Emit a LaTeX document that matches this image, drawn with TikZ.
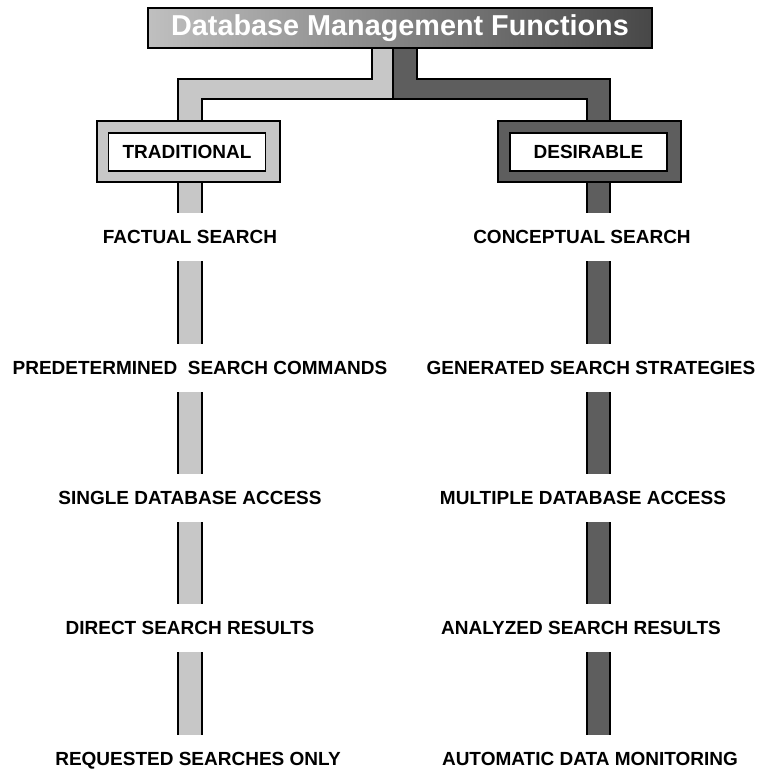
\documentclass[tikz,border=0pt]{standalone}
\usepackage{fontspec}
\setmainfont{Liberation Sans}
\usetikzlibrary{positioning}
\definecolor{lightbar}{gray}{0.78}
\definecolor{darkbar}{gray}{0.37}
\tikzset{
    edge/.style={line width=1.3pt},
    item/.style={font=\fontsize{19}{21}\selectfont\bfseries, text height=13.6pt, text depth=0pt, minimum height=48pt, inner sep=0pt},
    frame/.style={draw, edge, minimum width=183pt, minimum height=61pt, inner sep=0pt},
    plate/.style={draw, edge, fill=white, minimum width=157pt, minimum height=38pt, inner sep=0pt, font=\fontsize{19}{21}\selectfont\bfseries}
}

\begin{document}
\begin{tikzpicture}[x=1pt, y=-1pt]
    \useasboundingbox[fill=white] (0,0) rectangle (758,769);

    \node[draw, edge, left color=black!25, right color=black!72, minimum width=504pt, minimum height=40pt, inner sep=0pt,
          text=white, font=\fontsize{28.8}{30}\selectfont\bfseries] (title) at (400,28) {Database Management Functions};

    \node[frame, fill=lightbar] (trad) at (188.5,151.5) {};
    \node[plate] (tradtxt) at (187,152) {TRADITIONAL};
    \node[frame, fill=darkbar] (des) at (589.5,151.5) {};
    \node[plate] (destxt) at (588.5,152) {DESIRABLE};

    \node[item] (fac) at (190,237) {FACTUAL SEARCH};
    \node[item] (pre) at (200,368) {PREDETERMINED\ \ SEARCH COMMANDS};
    \node[item] (sin) at (190,498) {SINGLE DATABASE ACCESS};
    \node[item] (dir) at (190,628) {DIRECT SEARCH RESULTS};
    \node[item] (req) at (198,759) {REQUESTED SEARCHES ONLY};

    \node[item] (con) at (582,237) {CONCEPTUAL SEARCH};
    \node[item] (gen) at (591,368) {GENERATED SEARCH STRATEGIES};
    \node[item] (mul) at (583,498) {MULTIPLE DATABASE ACCESS};
    \node[item] (ana) at (581,628) {ANALYZED SEARCH RESULTS};
    \node[item] (aut) at (590,759) {AUTOMATIC DATA MONITORING};

    \draw[edge, fill=lightbar] (title.south -| 372,0) -- (372,79) -- (178,79) -- (trad.north -| 178,0)
        -- (trad.north -| 202,0) -- (202,99) -- (393,99) -- (title.south -| 393,0) -- cycle;
    \draw[edge, fill=darkbar] (title.south -| 393,0) -- (393,99) -- (587,99) -- (des.north -| 587,0)
        -- (des.north -| 610,0) -- (610,79) -- (417,79) -- (title.south -| 417,0) -- cycle;

    \foreach \a/\b in {trad/fac, fac/pre, pre/sin, sin/dir, dir/req} {
        \fill[lightbar] (\a.south -| 178,0) rectangle (\b.north -| 202,0);
        \draw[edge] (\a.south -| 178,0) -- (\b.north -| 178,0)
                    (\a.south -| 202,0) -- (\b.north -| 202,0);
    }
    \foreach \a/\b in {des/con, con/gen, gen/mul, mul/ana, ana/aut} {
        \fill[darkbar] (\a.south -| 587,0) rectangle (\b.north -| 610,0);
        \draw[edge] (\a.south -| 587,0) -- (\b.north -| 587,0)
                    (\a.south -| 610,0) -- (\b.north -| 610,0);
    }
\end{tikzpicture}
\end{document}
